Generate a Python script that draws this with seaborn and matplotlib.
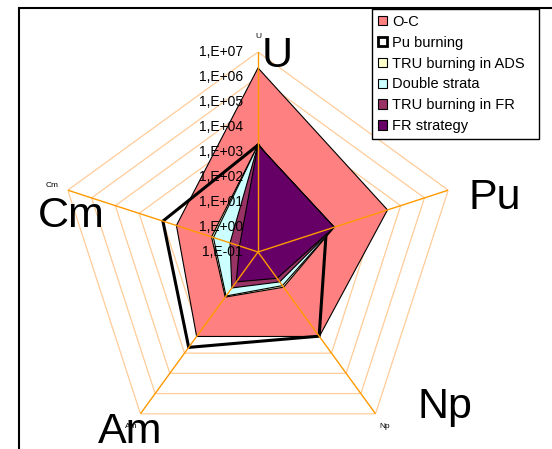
import numpy as np
import matplotlib
matplotlib.use("Agg")
import matplotlib.pyplot as plt
import seaborn as sns
from matplotlib.patches import Patch, Rectangle

# Radiotoxicity indicator per element for each fuel-cycle scenario (log scale)
categories = ["U", "Pu", "Np", "Am", "Cm"]
series_names = ["O-C", "Pu burning", "TRU burning in ADS", "Double strata",
                "TRU burning in FR", "FR strategy"]
oc = [2.3e6, 2.8e4, 1.5e3, 1.5e3, 2.7e2]
pu_burning = [1.9e3, 7.5e1, 1.45e3, 5.2e3, 1.0e3]
tru_ads = [1.9e3, 1.6e2, 5.5, 17.0, 9.0]
double_strata = [1.9e3, 1.6e2, 4.6, 15.0, 7.5]
tru_fr = [1.9e3, 1.6e2, 3.0, 6.0, 1.5]
fr_strategy = [1.9e3, 1.6e2, 2.0, 3.0, 0.6]

tick_values = [1e-1, 1e0, 1e1, 1e2, 1e3, 1e4, 1e5, 1e6, 1e7]
tick_labels = ["1,E-01", "1,E+00", "1,E+01", "1,E+02", "1,E+03",
               "1,E+04", "1,E+05", "1,E+06", "1,E+07"]
small_labels = ["U", "", "Np", "Am", "Cm"]

fill_colors = ["#FF8080", None, "#FFFFCC", "#CCFFFF", "#993366", "#660066"]
spoke_color = "#FF9900"
ring_color = "#FFCC99"

sns.set_style("white")
plt.rcParams["font.family"] = ["Liberation Sans", "DejaVu Sans"]
plt.rcParams["text.color"] = "black"
plt.rcParams["xtick.color"] = "black"
plt.rcParams["ytick.color"] = "black"

fig = plt.figure(figsize=(5.52, 4.49), dpi=100)
ax = fig.add_axes([58 / 552, -3 / 449, 400 / 552, 400 / 449], projection="polar")
ax.set_theta_zero_location("N")
ax.set_theta_direction(-1)
ax.set_rscale("log")

theta = np.linspace(0, 2 * np.pi, len(categories), endpoint=False)
theta_c = np.append(theta, 2 * np.pi)


def closed(vals):
    return np.append(np.asarray(vals, dtype=float), vals[0])


# pentagonal gridlines at each decade
for v in tick_values[1:]:
    ax.plot(theta_c, [v] * len(theta_c), color=ring_color, lw=0.9, zorder=1)

all_series = [oc, pu_burning, tru_ads, double_strata, tru_fr, fr_strategy]
for i, (vals, col) in enumerate(zip(all_series, fill_colors)):
    if col is None:
        sns.lineplot(x=theta_c, y=closed(vals), sort=False, estimator=None,
                     color="black", lw=2.2, ax=ax, zorder=2 + i)
    else:
        ax.fill(theta_c, closed(vals), facecolor=col, edgecolor="black",
                lw=0.8, zorder=2 + i)

# spokes drawn over the filled areas
for t in theta:
    ax.plot([t, t], [tick_values[0], tick_values[-1]], color=spoke_color,
            lw=1.0, zorder=10)

ax.set_rlim(tick_values[0], tick_values[-1])
ax.set_xlabel("")
ax.set_ylabel("")
ax.grid(False)
ax.spines["polar"].set_visible(False)
ax.patch.set_alpha(0)
ax.set_yticks([])
ax.set_xticks(theta)
ax.set_xticklabels(small_labels, fontsize=6, color="black")
ax.tick_params(axis="x", pad=1)

# decade labels along the U axis
for v, lab in zip(tick_values, tick_labels):
    ax.annotate(lab, xy=(0, v), xytext=(-15, 0), textcoords="offset pixels",
                ha="right", va="center", fontsize=10, zorder=12,
                color="black", annotation_clip=False)

# large element names beside each axis tip
big_offsets = [(19, -15), (47, -19), (69, -4), (-10, -29), (4, -37)]
for t, cat, off in zip(theta, categories, big_offsets):
    ax.annotate(cat, xy=(t, tick_values[-1]), xytext=off,
                textcoords="offset pixels", ha="center", va="baseline",
                fontsize=31, zorder=12, color="black", annotation_clip=False)

handles = []
for name, col in zip(series_names, fill_colors):
    if col is None:
        handles.append(Patch(facecolor="white", edgecolor="black", lw=2.0))
    else:
        handles.append(Patch(facecolor=col, edgecolor="black", lw=0.8))
leg_top = 1 - 9 / 449
leg = fig.legend(handles, series_names, loc="upper left",
                 bbox_to_anchor=(372 / 552, leg_top - 0.01, 167 / 552, 0.01),
                 mode="expand", frameon=True,
                 fancybox=False, edgecolor="black", fontsize=10.5,
                 handlelength=0.6, handleheight=0.6, handletextpad=0.4,
                 labelspacing=0.47, borderpad=0.4, borderaxespad=0)
leg.get_frame().set_linewidth(1.0)
leg.get_frame().set_alpha(1)
for txt in leg.get_texts():
    txt.set_color("black")

fig.add_artist(Rectangle((19 / 552, -0.1), 1.2, 1 - 8 / 449 + 0.1,
                         transform=fig.transFigure, fill=False,
                         edgecolor="black", lw=1.5))

fig.savefig("out.png", dpi=100)
